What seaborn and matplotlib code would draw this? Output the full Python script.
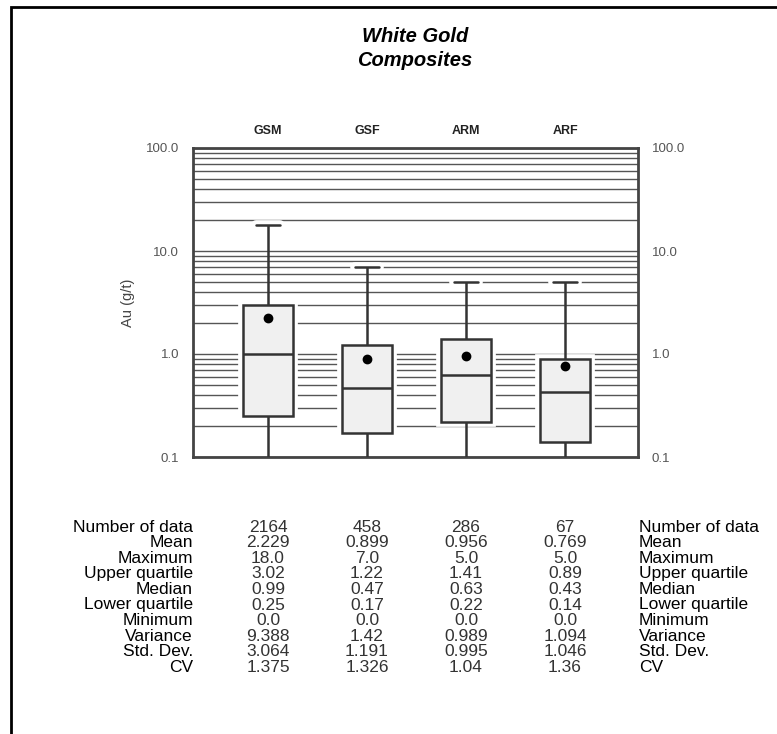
import numpy as np
import pandas as pd
import matplotlib
matplotlib.use("Agg")
import matplotlib.pyplot as plt
import matplotlib.patheffects as pe
from matplotlib.patches import Rectangle
from matplotlib.ticker import FixedLocator, LogLocator, NullFormatter
import seaborn as sns

zones = ["GSM", "GSF", "ARM", "ARF"]
n_data = [2164, 458, 286, 67]
means = [2.229, 0.899, 0.956, 0.769]
maxima = [18.0, 7.0, 5.0, 5.0]
upper_q = [3.02, 1.22, 1.41, 0.89]
medians = [0.99, 0.47, 0.63, 0.43]
lower_q = [0.25, 0.17, 0.22, 0.14]
minima = [0.0, 0.0, 0.0, 0.0]
variance = ["9.388", "1.42", "0.989", "1.094"]
std_dev = ["3.064", "1.191", "0.995", "1.046"]
cv = ["1.375", "1.326", "1.04", "1.36"]

stat_labels = ["Number of data", "Mean", "Maximum", "Upper quartile", "Median",
               "Lower quartile", "Minimum", "Variance", "Std. Dev.", "CV"]

# five summary points per zone -> quartiles come out exact with whis=inf
rows = []
for i, z in enumerate(zones):
    for v in (minima[i], lower_q[i], medians[i], upper_q[i], maxima[i]):
        rows.append({"zone": z, "au": v})
df = pd.DataFrame(rows)

sns.set_theme(style="white")
plt.rcParams["font.family"] = ["Liberation Sans", "DejaVu Sans"]

fig = plt.figure(figsize=(7.77, 7.34), dpi=100)
ax = fig.add_axes([193 / 777, 277 / 734, 445 / 777, 309 / 734])

gap = [pe.withStroke(linewidth=7, foreground="white")]
sns.boxplot(data=df, x="zone", y="au", order=zones, whis=np.inf, width=0.5,
            color="#f0f0f0", linecolor="#333333", linewidth=1.8, ax=ax,
            boxprops=dict(path_effects=gap, facecolor="#f0f0f0"),
            capprops=dict(path_effects=gap, zorder=2.5),
            whiskerprops=dict(zorder=3),
            medianprops=dict(color="#333333", zorder=3))
sns.pointplot(x=zones, y=means, order=zones, linestyle="none", marker="o",
              color="black", markersize=5, ax=ax)

ax.set_yscale("log")
ax.set_ylim(0.1, 100)
ax.set_xlim(-0.758, 3.737)

ax.yaxis.set_major_locator(FixedLocator([0.1, 1, 10, 100]))
ax.set_yticklabels(["0.1", "1.0", "10.0", "100.0"])
ax.yaxis.set_minor_locator(LogLocator(base=10, subs=np.arange(2, 10)))
ax.yaxis.set_minor_formatter(NullFormatter())
ax.grid(True, axis="y", which="both", color="#555555", linewidth=1.0)
ax.set_axisbelow(True)
ax.tick_params(axis="y", which="both", length=0, labelleft=True, labelright=True,
               labelsize=9.5, labelcolor="#555555", pad=10)

ax.xaxis.tick_top()
ax.tick_params(axis="x", length=0, pad=8, labelcolor="#222222")
for lbl in ax.get_xticklabels():
    lbl.set_fontweight("bold")
    lbl.set_fontsize(9)
ax.set_xlabel("")
ax.set_ylabel("Au (g/t)", fontsize=10.5, color="#444444", labelpad=8)

for s in ax.spines.values():
    s.set_color("#444444")
    s.set_linewidth(2)

fig.text(415 / 777, 1 - 37 / 734, "White Gold", ha="center", va="center",
         fontsize=14.5, fontweight="bold", fontstyle="italic", color="black")
fig.text(415 / 777, 1 - 60 / 734, "Composites", ha="center", va="center",
         fontsize=14.5, fontweight="bold", fontstyle="italic", color="black")

# statistics table under the plot
table_vals = [
    [str(v) for v in n_data],
    ["%.3f" % v for v in means],
    ["%.1f" % v for v in maxima],
    ["%.2f" % v for v in upper_q],
    ["%.2f" % v for v in medians],
    ["%.2f" % v for v in lower_q],
    ["%.1f" % v for v in minima],
    variance,
    std_dev,
    cv,
]
trans = matplotlib.transforms.blended_transform_factory(ax.transData, fig.transFigure)
y0 = 1 - 527 / 734
dy = 15.6 / 734
for r, (name, vals) in enumerate(zip(stat_labels, table_vals)):
    y = y0 - r * dy
    fig.text(193 / 777, y, name, ha="right", va="center", fontsize=12.5, color="black")
    fig.text(639 / 777, y, name, ha="left", va="center", fontsize=12.5, color="black")
    for i, v in enumerate(vals):
        ax.text(i, y, v, transform=trans, ha="center", va="center", fontsize=12.5,
                color="#333333", clip_on=False)

# page border
fig.patches.append(Rectangle((11 / 777, -0.1), 1.2, 1.1 - 7 / 734, transform=fig.transFigure,
                             fill=False, edgecolor="black", linewidth=2, figure=fig))

fig.savefig("out.png", dpi=100)
